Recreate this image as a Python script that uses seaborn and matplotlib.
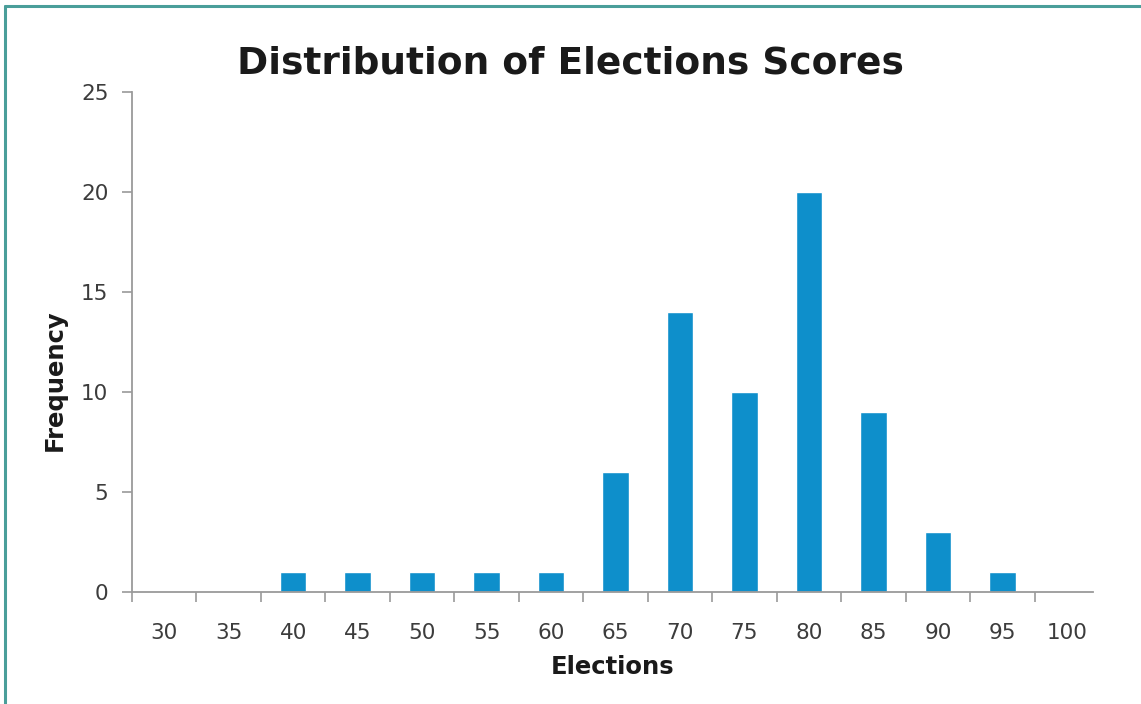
import matplotlib
matplotlib.use("Agg")
import matplotlib.pyplot as plt
import seaborn as sns
import pandas as pd
from matplotlib.lines import Line2D

# Score bins and their frequencies
scores = ["30", "35", "40", "45", "50", "55", "60", "65", "70", "75", "80", "85", "90", "95", "100"]
frequency = [0, 0, 1, 1, 1, 1, 1, 6, 14, 10, 20, 9, 3, 1, 0]

df = pd.DataFrame({"Elections": scores, "Frequency": frequency})

sns.set_theme(style="white")
plt.rcParams["font.family"] = ["DejaVu Sans"]

fig = plt.figure(figsize=(11.41, 7.04), dpi=100)
ax = fig.add_axes([0.1157, 0.1591, 0.8475, 0.7102])

sns.barplot(data=df, x="Elections", y="Frequency", order=scores,
            color="#0E8FCB", saturation=1, width=0.41, ax=ax)

n = len(scores)
ax.set_xlim(-0.5, n - 0.5)
ax.set_ylim(0, 25)
ax.set_yticks([0, 5, 10, 15, 20, 25])

# Category boundary ticks on the x axis, labels centred under bars
ax.set_xticks([i - 0.5 for i in range(n)], minor=True)
ax.tick_params(axis="x", which="major", length=0, pad=22, labelsize=15.5, labelcolor="#3c3c3c")
ax.tick_params(axis="x", which="minor", length=7, width=1.2, color="#9a9a9a", direction="out", bottom=True)
ax.tick_params(axis="y", which="major", length=7, width=1.2, color="#9a9a9a", direction="out",
               left=True, pad=10, labelsize=15.5, labelcolor="#3c3c3c")

for side in ["top", "right"]:
    ax.spines[side].set_visible(False)
for side in ["left", "bottom"]:
    ax.spines[side].set_color("#9a9a9a")
    ax.spines[side].set_linewidth(1.3)
ax.spines["bottom"].set_bounds(-0.5, n - 0.6)

ax.set_xlabel("Elections", fontsize=17.5, fontweight="bold", color="#1a1a1a")
ax.xaxis.set_label_coords(0.497, -0.126)
ax.set_ylabel("Frequency", fontsize=17.5, fontweight="bold", color="#1a1a1a")
ax.yaxis.set_label_coords(-0.067, 0.424)

fig.text(0.5, 0.91, "Distribution of Elections Scores", ha="center", va="center",
         fontsize=27, fontweight="bold", color="#1a1a1a")

# Frame lines along the left and top edges
border = "#4a9e9a"
fig.add_artist(Line2D([0.0048, 0.0048], [0, 0.991], transform=fig.transFigure, color=border, lw=2.2))
fig.add_artist(Line2D([0.0048, 1.0], [0.991, 0.991], transform=fig.transFigure, color=border, lw=2.2))

fig.savefig("out.png", dpi=100, facecolor="white")
